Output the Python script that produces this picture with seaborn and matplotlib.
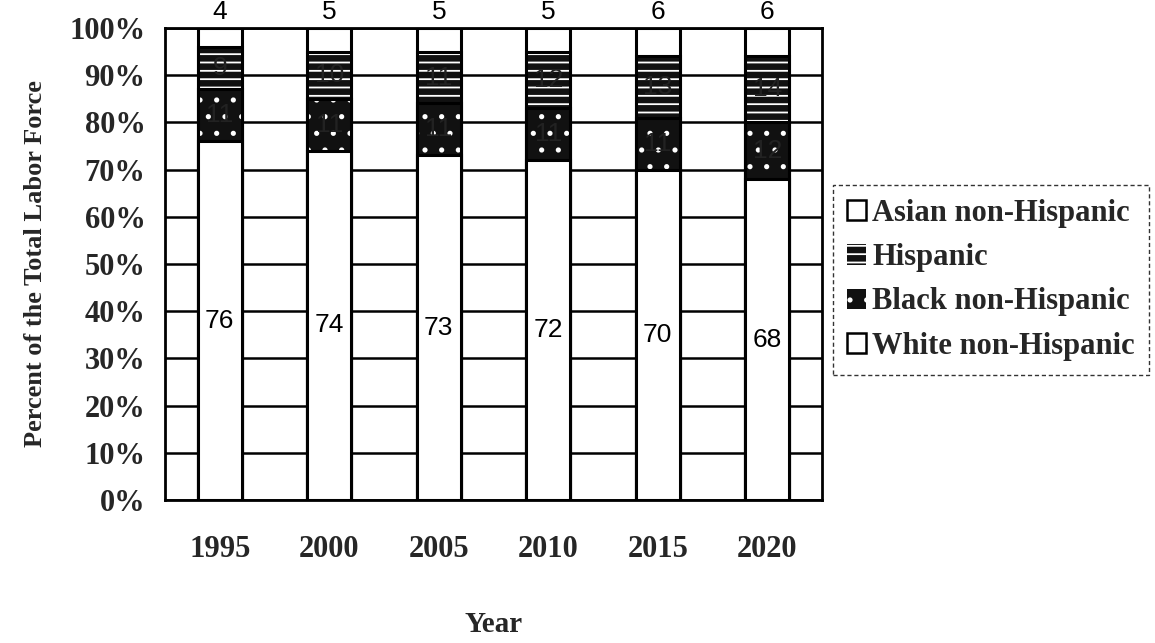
import matplotlib
matplotlib.use("Agg")
import matplotlib.pyplot as plt
import matplotlib.patches as mpatches
from matplotlib.ticker import FixedLocator, PercentFormatter
import numpy as np
import pandas as pd
import seaborn as sns

# Labor force share by race/ethnicity (percent)
years = ["1995", "2000", "2005", "2010", "2015", "2020"]
white = [76, 74, 73, 72, 70, 68]
black = [11, 11, 11, 11, 11, 12]
hispanic = [9, 10, 11, 12, 13, 14]
asian = [4, 5, 5, 5, 6, 6]

sns.set_theme(style="white")
plt.rcParams["font.family"] = ["Liberation Serif", "DejaVu Serif"]
plt.rcParams["hatch.linewidth"] = 1.3

df = pd.DataFrame({"Year": years, "White": white, "Black": black,
                   "Hispanic": hispanic, "Asian": asian})
df["cum_white"] = df["White"]
df["cum_black"] = df["cum_white"] + df["Black"]
df["cum_hisp"] = df["cum_black"] + df["Hispanic"]
df["cum_asian"] = df["cum_hisp"] + df["Asian"]

fig = plt.figure(figsize=(11.55, 6.43), dpi=100)
ax = fig.add_axes([0.1429, 0.2224, 0.5688, 0.7341])

bw = 0.4
dark = "#111111"
hisp_hatch = "--"
black_hatch = "."

# stacked columns drawn as overlapping cumulative totals, top layer first
sns.barplot(data=df, x="Year", y="cum_asian", color="white", edgecolor="black",
            linewidth=2.2, width=bw, saturation=1, ax=ax, zorder=3)
sns.barplot(data=df, x="Year", y="cum_hisp", color=dark, edgecolor="white",
            linewidth=0, hatch=hisp_hatch, width=bw, saturation=1, ax=ax, zorder=3)
sns.barplot(data=df, x="Year", y="cum_hisp", fill=False, edgecolor="black",
            linewidth=2.2, width=bw, ax=ax, zorder=3)
sns.barplot(data=df, x="Year", y="cum_black", color=dark, edgecolor="white",
            linewidth=0, hatch=black_hatch, width=bw, saturation=1, ax=ax, zorder=3)
sns.barplot(data=df, x="Year", y="cum_black", fill=False, edgecolor="black",
            linewidth=2.2, width=bw, ax=ax, zorder=3)
sns.barplot(data=df, x="Year", y="cum_white", color="white", edgecolor="black",
            linewidth=2.2, width=bw, saturation=1, ax=ax, zorder=3)

# segment value labels
label_font = dict(family=["Liberation Sans", "DejaVu Sans"], fontsize=19, zorder=6)
for i in range(len(years)):
    ax.text(i, white[i] / 2, str(white[i]), ha="center", va="center",
            color="black", **label_font)
    ax.text(i, df["cum_white"][i] + black[i] / 2, str(black[i]), ha="center",
            va="center", color="#222222", **label_font)
    ax.text(i, df["cum_black"][i] + hispanic[i] / 2, str(hispanic[i]), ha="center",
            va="center", color="#222222", **label_font)
    ax.text(i, 103.3, str(asian[i]), ha="center", va="center", color="black",
            clip_on=False, **label_font)

ax.set_ylim(0, 100)
ax.set_xlim(-0.5, len(years) - 0.5)
ax.yaxis.set_major_locator(FixedLocator(np.arange(0, 101, 10)))
ax.yaxis.set_major_formatter(PercentFormatter(decimals=0))
ax.grid(axis="y", color="black", linewidth=1.8, zorder=0)
ax.grid(axis="x", visible=False)
ax.set_axisbelow(True)

for s in ax.spines.values():
    s.set_color("black")
    s.set_linewidth(2.0)

ax.xaxis.set_minor_locator(FixedLocator(np.arange(-0.5, len(years), 1)))
ax.tick_params(axis="x", which="major", length=0, pad=25, labelsize=22)
ax.tick_params(axis="x", which="minor", length=5, width=1.2, color="black", direction="out")
ax.tick_params(axis="y", which="major", length=8, width=1.5, color="black",
               direction="out", labelsize=22, pad=6)
for lab in ax.get_xticklabels() + ax.get_yticklabels():
    lab.set_fontweight("bold")

ax.set_xlabel("Year", fontsize=21, fontweight="bold", labelpad=34)
ax.set_ylabel("Percent of the Total Labor Force", fontsize=19, fontweight="bold", labelpad=16)

# legend
handles = [
    mpatches.Patch(facecolor="white", edgecolor="black", linewidth=1.8, label="Asian non-Hispanic"),
    mpatches.Patch(facecolor=dark, edgecolor="white", hatch=hisp_hatch, linewidth=0, label="Hispanic"),
    mpatches.Patch(facecolor=dark, edgecolor="white", hatch=black_hatch, linewidth=0, label="Black non-Hispanic"),
    mpatches.Patch(facecolor="white", edgecolor="black", linewidth=1.8, label="White non-Hispanic"),
]
leg = fig.legend(handles=handles, loc="upper left", bbox_to_anchor=(0.721, 0.712),
                 frameon=True, fancybox=False, prop=dict(weight="bold", size=22),
                 handlelength=0.65, handleheight=0.65, handletextpad=0.2,
                 labelspacing=0.5, borderpad=0.45, borderaxespad=0)
frame = leg.get_frame()
frame.set_edgecolor("black")
frame.set_linewidth(1.0)
frame.set_linestyle((0, (3, 2)))

fig.savefig("out.png", dpi=100, facecolor="white")
